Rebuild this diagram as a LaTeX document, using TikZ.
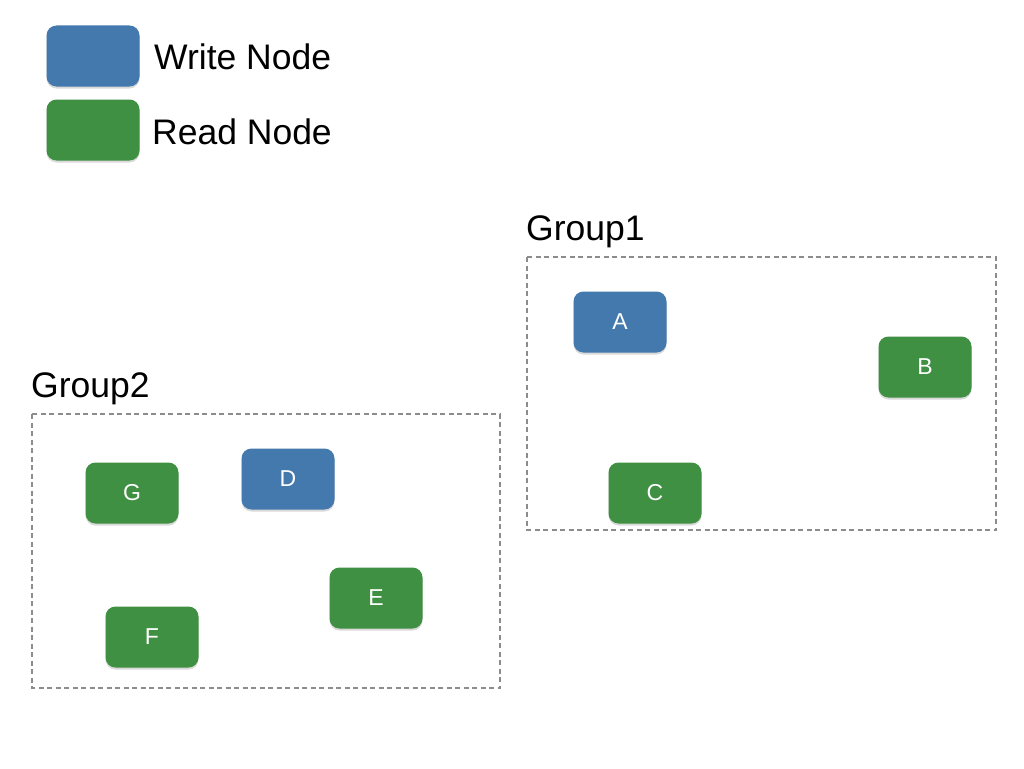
\documentclass[tikz,border=0pt]{standalone}
\usepackage{fontspec}
\setmainfont{Liberation Sans}
\usetikzlibrary{shadows}
\definecolor{wblue}{HTML}{4379AD}
\definecolor{rgreen}{HTML}{3F9042}
\definecolor{dgray}{HTML}{8C8C8C}
\tikzset{
  nodebox/.style={rounded corners=10pt, minimum width=93pt, minimum height=61pt, text=white,
    font=\fontsize{23}{23}\selectfont, inner sep=0pt,
    drop shadow={opacity=0.3, shadow xshift=0pt, shadow yshift=-2pt}},
  writenode/.style={nodebox, fill=wblue},
  readnode/.style={nodebox, fill=rgreen},
  groupbox/.style={draw=dgray, line width=1.6pt, dash pattern=on 5pt off 3.5pt},
  biglabel/.style={font=\fontsize{35.5}{35.5}\selectfont, anchor=base west, inner sep=0pt}
}
\begin{document}
\begin{tikzpicture}[x=1pt,y=-1pt]
\useasboundingbox (0,0) rectangle (1024,768);
% legend
\node[writenode] (lw) at (93,56) {};
\node[readnode] (lr) at (93,130) {};
\node[biglabel] (tw) at (154,69) {Write Node};
\node[biglabel] (tr) at (152,144) {Read Node};
% groups
\node[biglabel] (g1) at (526,240) {Group1};
\draw[groupbox] (527,257) rectangle (996,530);
\node[biglabel] (g2) at (31,397) {Group2};
\draw[groupbox] (32,414) rectangle (500,688);
% nodes
\node[writenode] (A) at (620,322) {A};
\node[readnode] (B) at (925,367) {B};
\node[readnode] (C) at (655,493) {C};
\node[readnode] (G) at (132,493) {G};
\node[writenode] (D) at (288,479) {D};
\node[readnode] (E) at (376,598) {E};
\node[readnode] (F) at (152,637) {F};
\end{tikzpicture}
\end{document}
